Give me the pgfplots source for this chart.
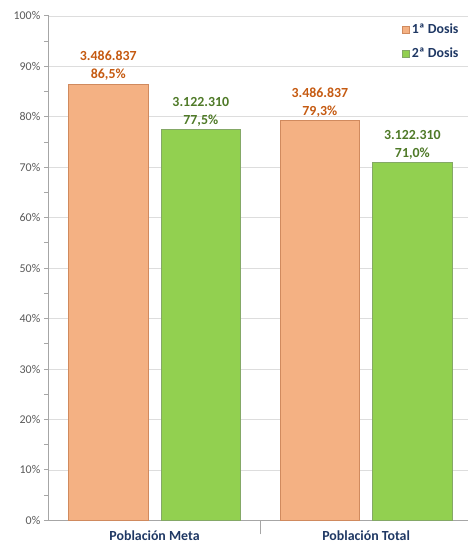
\documentclass[border=0pt]{standalone}
\usepackage{fontspec}
\setmainfont{Carlito}
\usepackage{pgfplots}
\pgfplotsset{compat=1.18}
\definecolor{dosisUno}{HTML}{F4B183}
\definecolor{dosisUnoBorde}{HTML}{D08A5E}
\definecolor{dosisUnoTexto}{HTML}{C55A11}
\definecolor{dosisDos}{HTML}{92D050}
\definecolor{dosisDosBorde}{HTML}{84A866}
\definecolor{dosisDosTexto}{HTML}{4F7A28}
\definecolor{azulCat}{HTML}{1F3864}
\definecolor{ejeGris}{HTML}{A6A6A6}
\definecolor{rejilla}{HTML}{DDDDDD}
\definecolor{textoGris}{HTML}{595959}

\begin{document}
\begin{tikzpicture}
\begin{axis}[name=ax, scale only axis, width=421bp, height=507bp,
  ybar, bar width=80bp,
  xmin=-0.5, xmax=1.48, ymin=0, ymax=100,
  xtick={0,1}, xticklabels={Población Meta, Población Total},
  ytick={0,10,...,100},
  yticklabels={0\%,10\%,20\%,30\%,40\%,50\%,60\%,70\%,80\%,90\%,100\%},
  minor y tick num=1,
  axis x line*=bottom, axis y line*=left,
  axis line style={draw=ejeGris, line width=0.9bp, -},
  ymajorgrids, major grid style={draw=rejilla, line width=0.8bp},
  tick align=outside,
  major tick length=5bp, minor tick length=5bp,
  y tick style={draw=ejeGris, line width=0.9bp},
  x tick style={draw=none},
  extra x ticks={0.5}, extra x tick labels={},
  extra x tick style={x tick style={draw=ejeGris, line width=0.9bp}, major tick length=14bp},
  yticklabel style={font=\fontsize{12}{14}\selectfont, text=textoGris},
  xticklabel style={font=\fontsize{14}{16}\selectfont\bfseries, text=azulCat, yshift=-2bp},
  legend style={draw=none, fill=none, at={(1,1)}, anchor=north east, xshift=-4bp, yshift=-4bp,
    font=\fontsize{14}{16}\selectfont\bfseries, text=azulCat, row sep=9bp,
    nodes={inner sep=2bp}},
  legend cell align=left,
  legend image code/.code={\draw[#1] (0bp,-3.8bp) rectangle (7.5bp,3.8bp);},
  point meta=explicit symbolic,
  /pgf/number format/assume math mode=true,
  visualization depends on={y \as \valory},
  nodes near coords={\pgfplotspointmeta\\\pgfmathprintnumber[fixed,fixed zerofill,precision=1,use comma,assume math mode=true]{\valory}\%},
  nodes near coords style={align=center, font=\fontsize{14}{18}\selectfont\bfseries, anchor=south, inner sep=3bp},
]
\addplot[fill=dosisUno, draw=dosisUnoBorde, line width=0.7bp, bar shift=-46.5bp,
  nodes near coords style={text=dosisUnoTexto}]
  coordinates {(0,86.5) [3.486.837] (1,79.3) [3.486.837]};
\addplot[fill=dosisDos, draw=dosisDosBorde, line width=0.7bp, bar shift=46.5bp,
  nodes near coords style={text=dosisDosTexto}]
  coordinates {(0,77.5) [3.122.310] (1,71.0) [3.122.310]};
\legend{1ª Dosis, 2ª Dosis}
\end{axis}
\path ([shift={(-49bp,-21bp)}]ax.south west) rectangle ([shift={(0bp,16bp)}]ax.north east);
\end{tikzpicture}
\end{document}
